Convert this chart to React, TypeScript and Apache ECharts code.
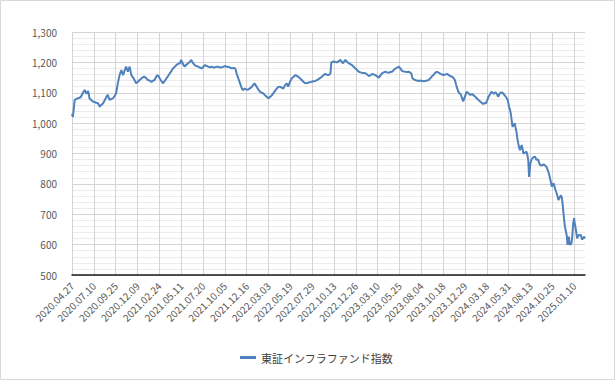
import React, { useEffect, useRef } from "react";
import * as echarts from "echarts";

const TICK_LABELS = [
  "2020.04.27", "2020.07.10", "2020.09.25", "2020.12.09", "2021.02.24", "2021.05.11",
  "2021.07.20", "2021.10.05", "2021.12.16", "2022.03.03", "2022.05.19", "2022.07.29",
  "2022.10.13", "2022.12.26", "2023.03.10", "2023.05.25", "2023.08.04", "2023.10.18",
  "2023.12.29", "2024.03.18", "2024.05.31", "2024.08.13", "2024.10.25", "2025.01.10",
];

const TRADING_DAY = [
  0, 2, 4, 6, 10, 14, 20, 25, 29, 33, 37, 40, 44, 48, 54, 60, 63, 67, 71, 75, 79, 82, 86, 90, 94, 98,
  101, 105, 109, 113, 117, 121, 124, 128, 132, 136, 140, 143, 147, 151, 155, 159, 163, 166, 170, 174,
  178, 182, 186, 189, 192, 195, 198, 201, 205, 208, 212, 216, 220, 224, 228, 231, 235, 239, 243, 247,
  250, 254, 258, 262, 266, 270, 273, 277, 281, 285, 289, 293, 297, 301, 305, 309, 312, 316, 320, 324,
  328, 332, 335, 339, 343, 347, 351, 355, 358, 362, 366, 370, 374, 377, 381, 385, 389, 392, 396, 400,
  404, 408, 412, 415, 418, 423, 427, 431, 435, 438, 442, 446, 450, 454, 458, 461, 465, 469, 472, 476,
  480, 484, 488, 492, 495, 499, 503, 507, 511, 514, 518, 522, 526, 530, 534, 538, 541, 545, 549, 553,
  557, 561, 564, 568, 572, 576, 580, 584, 588, 592, 594, 599, 603, 607, 611, 615, 620, 623, 626, 630,
  634, 638, 641, 645, 649, 653, 657, 661, 664, 668, 672, 676, 680, 684, 687, 691, 695, 699, 703, 707,
  710, 714, 718, 722, 725, 729, 733, 737, 741, 745, 749, 753, 756, 760, 764, 768, 772, 777, 780, 783,
  786, 790, 794, 798, 802, 806, 809, 813, 817, 821, 825, 829, 832, 836, 840, 844, 848, 851, 855, 859,
  863, 866, 870, 873, 877, 881, 885, 888, 891, 894, 896, 898, 900, 904, 908, 912, 916, 919, 923, 927,
  931, 935, 939, 942, 945, 948, 951, 954, 958, 961, 964, 966, 969, 971, 974, 976, 979, 981, 984, 986,
  989, 992, 995, 998, 1001, 1003, 1005, 1007, 1009, 1012, 1014, 1016, 1018, 1020, 1022, 1024, 1026,
  1028, 1030, 1032, 1034, 1038, 1041, 1043, 1045, 1047, 1049, 1050, 1052, 1054, 1057, 1060, 1062,
  1064, 1066, 1068, 1070, 1072, 1076, 1080, 1083, 1085, 1087, 1089, 1091, 1093, 1095, 1097, 1099,
  1101, 1103, 1105, 1106, 1108, 1110, 1112, 1114, 1116, 1118, 1120, 1122, 1124, 1125, 1127, 1129,
  1131, 1133, 1135, 1136, 1138, 1140, 1142, 1144, 1146, 1148, 1150, 1151, 1153, 1155, 1157, 1159,
  1161, 1163, 1165, 1167, 1168, 1170, 1173, 1175,
];

const INDEX_VALUE = [
  1030, 1020, 1045, 1076, 1080, 1082, 1085, 1100, 1109, 1097, 1106, 1082, 1076, 1071, 1068, 1065, 1054,
  1060, 1065, 1075, 1087, 1093, 1076, 1080, 1082, 1090,
  1098, 1131, 1158, 1175, 1158, 1175, 1186, 1169, 1186, 1158, 1150, 1142, 1131, 1136, 1142, 1147, 1152,
  1153, 1148, 1142,
  1140, 1136, 1140, 1142, 1150, 1158, 1155, 1147, 1138, 1131, 1138, 1147, 1155, 1164, 1172, 1180, 1185,
  1191, 1195, 1197,
  1208, 1195, 1186, 1192, 1197, 1202, 1208, 1198, 1191, 1188, 1186, 1183, 1180, 1186, 1191, 1188, 1186,
  1184, 1186, 1183,
  1184, 1186, 1186, 1183, 1184, 1186, 1188, 1185, 1186, 1183, 1180, 1182, 1180, 1164, 1147, 1131, 1114,
  1109, 1114, 1110,
  1111, 1115, 1120, 1126, 1131, 1120, 1110, 1103, 1100, 1098, 1092, 1087, 1082, 1087, 1092, 1098, 1106,
  1114, 1118, 1120,
  1117, 1114, 1125, 1131, 1120, 1135, 1147, 1152, 1158, 1156, 1153, 1148, 1142, 1136, 1131, 1132, 1133,
  1135, 1136, 1138,
  1139, 1141, 1144, 1148, 1153, 1158, 1162, 1159, 1158, 1164, 1200, 1203, 1201, 1200, 1204, 1208, 1197,
  1202, 1208, 1202,
  1197, 1194, 1191, 1186, 1180, 1175, 1169, 1167, 1166, 1165, 1164, 1160, 1155, 1158, 1162, 1160, 1158,
  1154, 1150, 1158,
  1164, 1167, 1169, 1167, 1166, 1168, 1169, 1175, 1180, 1183, 1186, 1178, 1172, 1170, 1169, 1168, 1169,
  1164, 1147, 1144,
  1142, 1140, 1139, 1140, 1139, 1138, 1139, 1140, 1142, 1148, 1155, 1160, 1166, 1169, 1166, 1162, 1160,
  1158, 1160, 1162,
  1158, 1155, 1153, 1150, 1142, 1120, 1103, 1098, 1093, 1080, 1071, 1080, 1087, 1103, 1098, 1093, 1095,
  1093, 1088, 1082,
  1076, 1071, 1066, 1063, 1066, 1065, 1075, 1087, 1096, 1103, 1099, 1097, 1101, 1100, 1094, 1087, 1095,
  1100, 1101, 1100,
  1095, 1090, 1084, 1076, 1054, 1045, 1032, 1010, 988, 995, 1000, 985, 972, 950, 934, 920, 911,
  920, 928, 915, 900, 903, 906, 895, 878, 823, 855, 868, 878, 884, 888, 890, 885,
  878, 882, 878, 870, 862, 860, 864, 862, 858, 856, 848, 840, 830, 818, 805, 791,
  798, 802, 792, 785, 778, 769, 760, 747, 752, 758, 762, 755, 730, 714, 685, 659,
  645, 632, 599, 610, 626, 599, 602, 604, 630, 670, 687, 675, 659, 640, 621, 628,
  632, 630, 633, 625, 617, 620, 626, 620,
];

const SERIES_NAME = "東証インフラファンド指数";

export default function App() {
  const ref = useRef<HTMLDivElement>(null);

  useEffect(() => {
    if (!ref.current) return;
    const chart = echarts.init(ref.current, undefined, { renderer: "svg" });
    const data = TRADING_DAY.map((d, i) => [d, INDEX_VALUE[i]]);
    const font = "'Noto Sans CJK JP', 'Noto Sans', sans-serif";
    chart.setOption({
      animation: false,
      backgroundColor: "#ffffff",
      textStyle: { fontFamily: font },
      grid: { left: 72, right: 30, top: 32, bottom: 105, containLabel: false },
      graphic: [
        {
          type: "rect",
          shape: { x: 0.5, y: 0.5, width: 614, height: 379 },
          style: { fill: "none", stroke: "#d9d9d9", lineWidth: 1 },
          silent: true,
        },
      ],
      legend: {
        left: 235,
        top: 347,
        icon: "rect",
        itemWidth: 16,
        itemHeight: 3,
        itemGap: 10,
        textStyle: { fontSize: 11, color: "#404040", fontFamily: font },
        data: [SERIES_NAME],
      },
      xAxis: {
        type: "value",
        min: 0,
        max: 1175,
        interval: 50,
        axisLine: { show: true, lineStyle: { color: "#1a1a1a", width: 1.5 } },
        axisTick: { show: false },
        splitLine: { show: true, showMaxLine: false, lineStyle: { color: "#d4d4d4", width: 1 } },
        axisLabel: {
          rotate: 45,
          margin: 9,
          fontSize: 10,
          color: "#595959",
          fontFamily: font,
          showMaxLabel: false,
          formatter: (v: number) => (v % 50 === 0 ? TICK_LABELS[v / 50] ?? "" : ""),
        },
      },
      yAxis: {
        type: "value",
        min: 500,
        max: 1300,
        interval: 100,
        axisLine: { show: false },
        axisTick: { show: false },
        minorTick: { show: false, splitNumber: 5 },
        minorSplitLine: { show: true, lineStyle: { color: "#ebebeb", width: 1 } },
        splitLine: { show: true, lineStyle: { color: "#d4d4d4", width: 1 } },
        axisLabel: {
          margin: 15,
          fontSize: 10,
          color: "#595959",
          fontFamily: font,
          formatter: (v: number) => v.toLocaleString("en-US"),
        },
      },
      series: [
        {
          name: SERIES_NAME,
          type: "line",
          data,
          symbol: "none",
          lineStyle: { color: "#4f81bd", width: 2 },
          itemStyle: { color: "#4f81bd" },
        },
      ],
    });
    return () => chart.dispose();
  }, []);

  return (
    <div
      ref={ref}
      style={{ position: "fixed", left: 0, top: 0, width: 615, height: 380 }}
    />
  );
}
